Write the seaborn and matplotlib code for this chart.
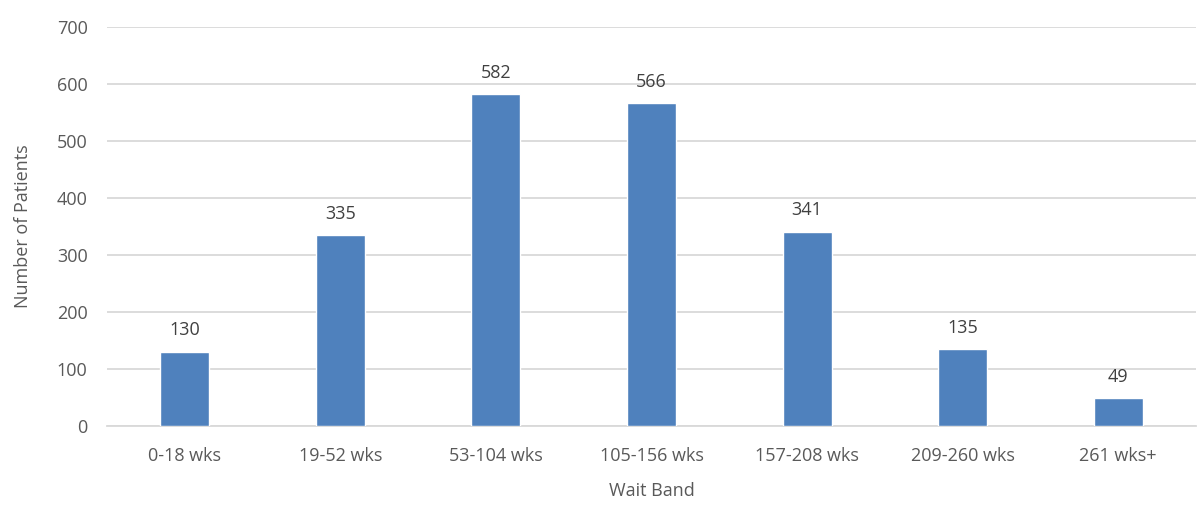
import matplotlib
matplotlib.use("Agg")
import matplotlib.pyplot as plt
import seaborn as sns
import pandas as pd

# Patients waiting by wait band
wait_bands = ["0-18 wks", "19-52 wks", "53-104 wks", "105-156 wks",
              "157-208 wks", "209-260 wks", "261 wks+"]
patients = [130, 335, 582, 566, 341, 135, 49]
y_ticks = [0, 100, 200, 300, 400, 500, 600, 700]

df = pd.DataFrame({"Wait Band": wait_bands, "Number of Patients": patients})

sns.set_theme(style="white")
plt.rcParams["font.family"] = ["Open Sans", "DejaVu Sans"]

text_color = "#595959"
grid_color = "#D9D9D9"
bar_color = "#4F81BD"

fig = plt.figure(figsize=(12.04, 5.05), dpi=100)
ax = fig.add_axes([0.0889, 0.1564, 0.9045, 0.7901])

sns.barplot(data=df, x="Wait Band", y="Number of Patients", color=bar_color,
            width=0.315, saturation=1, ax=ax, zorder=3)

ax.set_ylim(0, 700)
ax.set_yticks(y_ticks)
ax.set_xlim(-0.5, len(wait_bands) - 0.5)
ax.yaxis.grid(True, color=grid_color, linewidth=1.3, zorder=0)
ax.set_axisbelow(True)
for side in ["top", "right", "left"]:
    ax.spines[side].set_visible(False)
ax.spines["bottom"].set_color(grid_color)
ax.spines["bottom"].set_linewidth(1.3)

ax.tick_params(axis="both", length=0, labelsize=13, colors=text_color)
ax.tick_params(axis="x", pad=15)
ax.tick_params(axis="y", pad=14)

ax.set_xlabel("Wait Band", fontsize=13, color=text_color, labelpad=12)
ax.set_ylabel("Number of Patients", fontsize=13, color=text_color, labelpad=18)

for container in ax.containers:
    ax.bar_label(container, labels=[str(v) for v in patients], padding=9,
                 fontsize=13, color="#404040")

fig.savefig("out.png", dpi=100)
